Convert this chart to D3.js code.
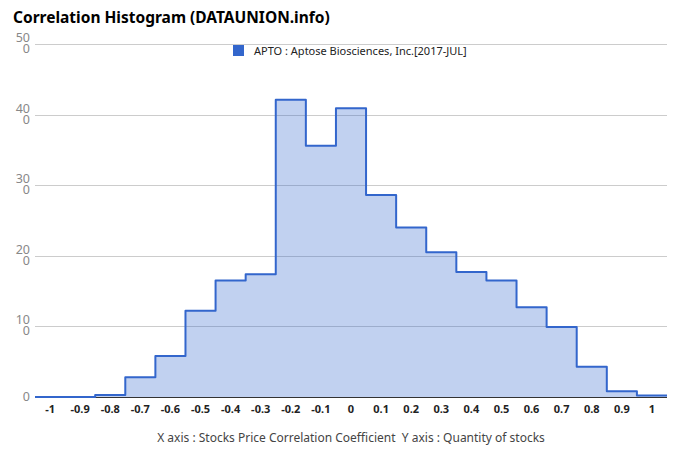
<!DOCTYPE html>
<html>
<head>
<meta charset="utf-8">
<script src="https://cdn.jsdelivr.net/npm/d3@7"></script>
<style>
  body { margin: 0; background: #fff; }
  svg { display: block; font-family: "Noto Sans", "Open Sans", Arial, sans-serif; }
</style>
</head>
<body>
<div id="chart"></div>
<script>
// bin centres and stock counts
var binCenters = [-1, -0.9, -0.8, -0.7, -0.6, -0.5, -0.4, -0.3, -0.2, -0.1, 0, 0.1, 0.2, 0.3, 0.4, 0.5, 0.6, 0.7, 0.8, 0.9, 1];
var counts = [0, 0, 3, 28, 58, 122, 165, 174, 421, 356, 409, 286, 240, 205, 177, 165, 127, 99, 43, 8, 2];
var yTicks = [0, 100, 200, 300, 400, 500];
var xTickLabels = ["-1", "-0.9", "-0.8", "-0.7", "-0.6", "-0.5", "-0.4", "-0.3", "-0.2", "-0.1", "0", "0.1", "0.2", "0.3", "0.4", "0.5", "0.6", "0.7", "0.8", "0.9", "1"];
var seriesName = "APTO : Aptose Biosciences, Inc.[2017-JUL]";

var width = 680, height = 462,
    plotLeft = 35, plotRight = 667, plotTop = 44, plotBottom = 397,
    binWidth = 0.1;

var svg = d3.select("#chart").append("svg")
    .attr("width", width)
    .attr("height", height);

var x = d3.scaleLinear().domain([-1.05, 1.05]).range([plotLeft, plotRight]);
var y = d3.scaleLinear().domain([0, 500]).range([plotBottom, plotTop]);

// title
svg.append("text")
    .attr("x", 13)
    .attr("y", 23)
    .style("font-size", "15.5px")
    .style("font-weight", "bold")
    .style("fill", "#000")
    .text("Correlation Histogram (DATAUNION.info)");

// gridlines
svg.append("g")
    .selectAll("line")
    .data(yTicks.filter(function(d) { return d > 0; }))
    .enter().append("line")
    .attr("x1", plotLeft)
    .attr("x2", plotRight)
    .attr("y1", function(d) { return Math.round(y(d)) + 0.5; })
    .attr("y2", function(d) { return Math.round(y(d)) + 0.5; })
    .style("stroke", "#cccccc")
    .style("stroke-width", 1);

// y labels, wrapped like "50 / 0" (the label box is too narrow for 3 digits)
var yl = svg.append("g")
    .selectAll("text")
    .data(yTicks)
    .enter().append("text")
    .attr("text-anchor", "end")
    .style("font-size", "12.5px")
    .style("fill", "#888");
yl.each(function(d) {
    var s = String(d), t = d3.select(this);
    if (s.length > 2) {
        t.append("tspan").attr("x", 30).attr("y", y(d) - 2).text(s.slice(0, 2));
        t.append("tspan").attr("x", 30).attr("y", y(d) + 9).text(s.slice(2));
    } else {
        t.append("tspan").attr("x", 30).attr("y", y(d) + 4).text(s);
    }
});

// step points from bin edges
var pts = binCenters.map(function(c, i) { return [c - binWidth / 2, counts[i]]; });
pts.push([binCenters[binCenters.length - 1] + binWidth / 2, counts[counts.length - 1]]);

var area = d3.area()
    .curve(d3.curveStepAfter)
    .x(function(d) { return x(d[0]); })
    .y0(y(0))
    .y1(function(d) { return y(d[1]); });

var line = d3.line()
    .curve(d3.curveStepAfter)
    .x(function(d) { return x(d[0]); })
    .y(function(d) { return y(d[1]); });

svg.append("path")
    .attr("d", area(pts))
    .style("fill", "#3366cc")
    .style("fill-opacity", 0.3);

// baseline
svg.append("line")
    .attr("x1", plotLeft)
    .attr("x2", plotRight)
    .attr("y1", y(0) + 0.5)
    .attr("y2", y(0) + 0.5)
    .style("stroke", "#333")
    .style("stroke-width", 1);

svg.append("path")
    .attr("d", line(pts))
    .style("fill", "none")
    .style("stroke", "#3366cc")
    .style("stroke-width", 2)
    .style("stroke-linejoin", "round");

// x tick labels
svg.append("g")
    .selectAll("text")
    .data(binCenters)
    .enter().append("text")
    .attr("x", function(d) { return x(d); })
    .attr("y", 413)
    .attr("text-anchor", "middle")
    .style("font-size", "11px")
    .style("font-weight", "bold")
    .style("fill", "#222")
    .text(function(d, i) { return xTickLabels[i]; });

// axis caption
svg.append("text")
    .attr("x", 351)
    .attr("y", 442)
    .attr("text-anchor", "middle")
    .style("font-size", "12px")
    .style("fill", "#444")
    .attr("xml:space", "preserve")
    .text("X axis : Stocks Price Correlation Coefficient  Y axis : Quantity of stocks");

// legend
var lg = svg.append("g");
lg.append("rect")
    .attr("x", 233)
    .attr("y", 45)
    .attr("width", 11)
    .attr("height", 11)
    .style("fill", "#3366cc");
lg.append("text")
    .attr("x", 254)
    .attr("y", 55)
    .style("font-size", "11px")
    .style("fill", "#222")
    .text(seriesName);
</script>
</body>
</html>
